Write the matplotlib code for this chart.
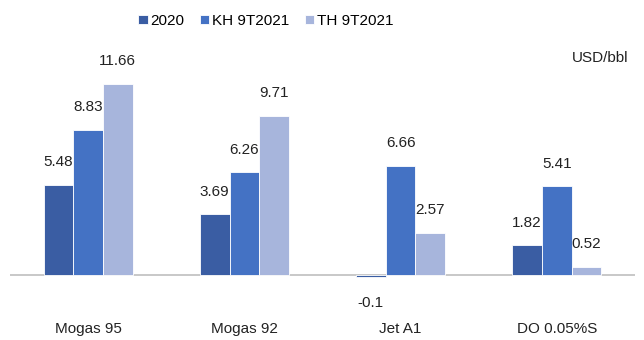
import numpy as np
import matplotlib
matplotlib.use("Agg")
import matplotlib.pyplot as plt

categories = ["Mogas 95", "Mogas 92", "Jet A1", "DO 0.05%S"]
series_names = ["2020", "KH 9T2021", "TH 9T2021"]
v2020 = [5.48, 3.69, -0.1, 1.82]
vkh = [8.83, 6.26, 6.66, 5.41]
vth = [11.66, 9.71, 2.57, 0.52]
colors = ["#3A5DA3", "#4472C4", "#A7B5DC"]

plt.rcParams['font.family'] = ['Liberation Sans', 'DejaVu Sans']

fig = plt.figure(figsize=(6.44, 3.40), dpi=100)
ax = fig.add_axes([0.0155, 0.1176, 0.9705, 0.735])

x = np.arange(len(categories))
w = 0.19
for i, (vals, name, c) in enumerate(zip([v2020, vkh, vth], series_names, colors)):
    pos = x + (i - 1) * w
    ax.bar(pos, vals, w, color=c, edgecolor="white", linewidth=0.6, label=name)
    for p, v in zip(pos, vals):
        if v >= 0:
            ax.text(p, v + 0.95, f"{v:g}", ha="center", va="bottom", fontsize=11, color="#222222")
        else:
            ax.text(p, v - 1.15, f"{v:g}", ha="center", va="top", fontsize=11, color="#222222")

ax.axhline(0, color="#BFBFBF", linewidth=1.2, zorder=0)
ax.set_xlim(-0.5, 3.5)
ax.set_ylim(-1.52, 13.7)
ax.set_yticks([])
ax.set_xticks(x)
ax.set_xticklabels(categories, fontsize=11, color="#222222")
ax.tick_params(axis="x", length=0, pad=16)
for s in ax.spines.values():
    s.set_visible(False)

ax.text(0.99, 0.97, "USD/bbl", transform=ax.transAxes, ha="right", va="center", fontsize=11, color="#222222")
fig.legend(loc="upper center", bbox_to_anchor=(0.413, 1.0), ncol=3, frameon=False, fontsize=11,
           handlelength=0.6, handleheight=0.6, handletextpad=0.2, columnspacing=1.0)

fig.savefig("out.png", dpi=100)
